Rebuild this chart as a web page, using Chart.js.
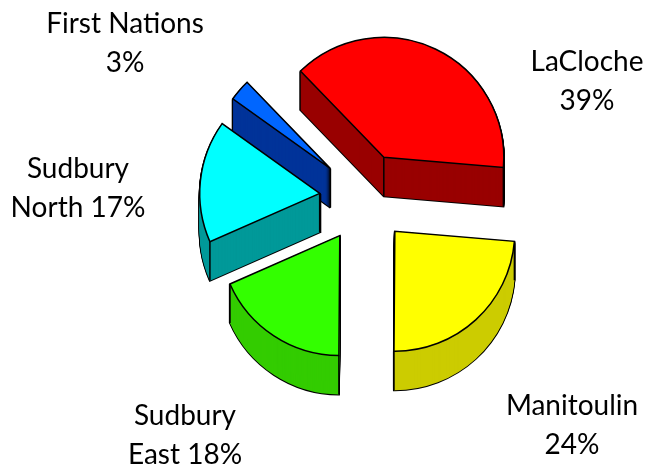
<!DOCTYPE html>
<html>
<head>
<meta charset="utf-8">
<style>html,body{margin:0;padding:0;background:#fff}canvas{display:block}</style>
<script src="https://cdn.jsdelivr.net/npm/chart.js@4"></script>
</head>
<body>
<canvas id="c" width="651" height="474"></canvas>
<script>
const categories = ["LaCloche", "Manitoulin", "Sudbury East", "Sudbury North", "First Nations"];
const shares = [38.6, 23.8, 18.3, 16.5, 2.9];
const topColors = ["#ff0000", "#ffff00", "#33ff00", "#00ffff", "#0066ff"];
const sideColors = ["#990000", "#cccc00", "#33cc00", "#009999", "#003399"];
const labelLines = [["LaCloche", "39%"], ["Manitoulin", "24%"], ["Sudbury", "East 18%"], ["Sudbury", "North 17%"], ["First Nations", "3%"]];
const labelAnchors = [[587, 71], [572, 415], [185, 425], [78, 178], [125, 33]];
const lineStep = 39;
const explode = 45;
const depth = 39;
const labelFont = '28px Lato';

function style(bg, border, width) {
  return {backgroundColor: bg, borderColor: border, borderWidth: width, borderAlign: 'center',
    borderJoinStyle: 'miter', borderRadius: 0, borderDash: [], borderDashOffset: 0,
    offset: 0, spacing: 0, circular: true};
}
const pie3d = {
  id: 'pie3d',
  beforeDatasetDraw(chart, args) {
    const ctx = chart.ctx;
    const arcs = args.meta.data.map((arc, i) => {
      const mid = (arc.startAngle + arc.endAngle) / 2;
      return {arc, i, dx: Math.cos(mid) * explode, dy: Math.sin(mid) * explode};
    }).sort((a, b) => (a.arc.y + a.dy) - (b.arc.y + b.dy));
    for (const {arc, i, dx, dy} of arcs) {
      const base = arc.options;
      ctx.save();
      ctx.translate(dx, dy);
      const sweep = (opts) => {
        arc.options = opts;
        for (let d = depth; d >= 1; d--) {
          ctx.save(); ctx.translate(0, d); arc.draw(ctx); ctx.restore();
        }
      };
      sweep(style('#000000', '#000000', 2));
      sweep(style(sideColors[i], sideColors[i], 0));
      ctx.strokeStyle = '#000';
      ctx.lineWidth = 1.5;
      ctx.beginPath();
      const corners = [[arc.x, arc.y]];
      for (const a of [arc.startAngle, arc.endAngle]) {
        if (Math.sin(a) > 0) corners.push([arc.x + Math.cos(a) * arc.outerRadius, arc.y + Math.sin(a) * arc.outerRadius]);
      }
      for (const [x, y] of corners) { ctx.moveTo(x, y); ctx.lineTo(x, y + depth); }
      ctx.stroke();
      arc.options = style(topColors[i], '#000000', 1.5);
      arc.draw(ctx);
      arc.options = base;
      ctx.restore();
    }
    return false;
  },
  afterDraw(chart) {
    const ctx = chart.ctx;
    ctx.save();
    ctx.font = labelFont;
    ctx.fillStyle = '#000';
    ctx.textAlign = 'center';
    ctx.textBaseline = 'alphabetic';
    labelLines.forEach((lines, i) => {
      lines.forEach((t, k) => ctx.fillText(t, labelAnchors[i][0], labelAnchors[i][1] + k * lineStep));
    });
    ctx.restore();
  }
};
new Chart(document.getElementById('c'), {
  type: 'pie',
  data: {labels: categories, datasets: [{data: shares, backgroundColor: topColors}]},
  options: {
    responsive: false, animation: false, rotation: -44, radius: 120,
    layout: {padding: {left: 78, right: 0, top: 0, bottom: 78}},
    events: [],
    plugins: {legend: {display: false}, tooltip: {enabled: false}, title: {display: false}}
  },
  plugins: [pie3d]
});
</script>
</body>
</html>
